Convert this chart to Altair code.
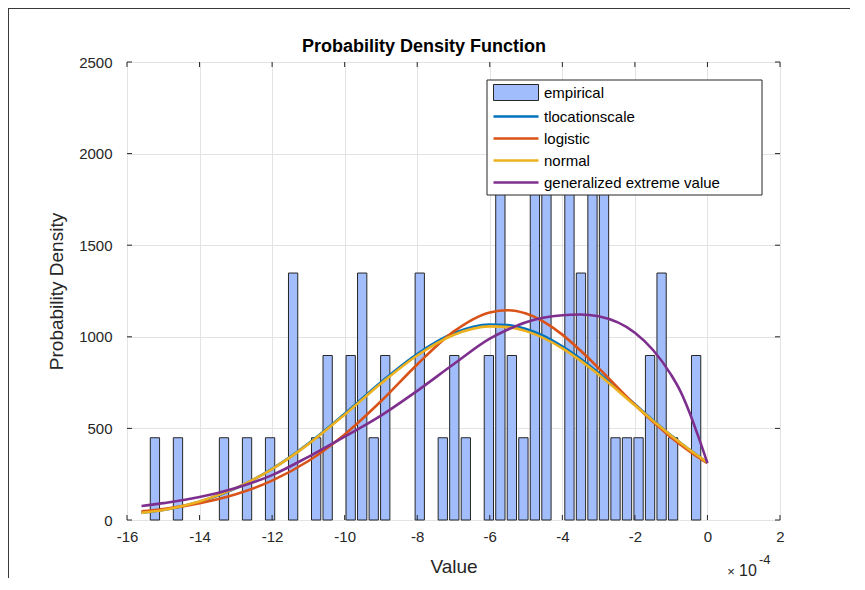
import altair as alt
import pandas as pd

# ---------------- data (x in units of 1e-4) ----------------
bin_centers = [-15.230, -14.595, -13.326, -12.691, -12.056, -11.421, -10.786, -10.469,
               -9.834, -9.517, -9.199, -8.882, -7.930, -7.295, -6.978, -6.660,
               -6.025, -5.708, -5.391, -5.073, -4.756, -4.438, -3.804, -3.486,
               -3.169, -2.851, -2.534, -2.217, -1.899, -1.582, -1.264, -0.947, -0.312]
bin_density = [449, 449, 449, 449, 449, 1348, 449, 898,
               898, 1348, 449, 898, 1348, 449, 898, 449,
               898, 1797, 898, 449, 1797, 2246, 1797, 1348,
               1797, 1797, 449, 449, 449, 898, 1348, 449, 898]

curve_x = [-15.6, -15, -14, -13, -12, -11, -10, -9, -8, -7, -6, -5.5, -5, -4, -3.5, -3,
           -2, -1.5, -1, -0.75, -0.5, -0.25, 0]
tls_y = [40, 55, 100, 173, 279, 417, 580, 752, 906, 1019, 1067, 1064, 1042, 948, 880, 803,
         632, 545, 461, 422, 384, 348, 313]
logistic_y = [47, 60, 92, 141, 215, 322, 467, 648, 849, 1028, 1133, 1145, 1127, 1012, 925, 829,
              629, 536, 451, 412, 375, 341, 310]
normal_y = [39, 55, 101, 174, 278, 414, 575, 745, 898, 1010, 1057, 1053, 1031, 937, 870, 794,
            626, 542, 460, 422, 384, 349, 314]
gev_y = [76, 92, 125, 175, 245, 345, 455, 570, 705, 850, 990, 1040, 1080, 1118, 1122, 1112,
         1022, 928, 792, 705, 590, 455, 310]

x_ticks = [-16, -14, -12, -10, -8, -6, -4, -2, 0, 2]
y_ticks = [0, 500, 1000, 1500, 2000, 2500]

legend_names = ["empirical", "tlocationscale", "logistic", "normal", "generalized extreme value"]
line_colors = ["#0072BD", "#D95319", "#EDB120", "#7E2F8E"]
bar_fill = "#a2bdfb"
edge = "#262626"

W, H = 653, 458
FONT = "Liberation Sans"

xscale = alt.Scale(domain=[-16, 2], nice=False, zero=False)
yscale = alt.Scale(domain=[0, 2500], nice=False, zero=False)

xaxis = alt.Axis(values=x_ticks, labelExpr="'' + datum.value", labelFontSize=15,
                 labelColor=edge, labelPadding=9, ticks=False, tickSize=0,
                 domain=False, grid=True, gridColor="#e3e3e3", gridWidth=1,
                 labelFlush=False, labelOverlap=False,
                 title="Value", titleFontSize=19, titleFontWeight="normal",
                 titleColor=edge, titlePadding=13, labelFont=FONT, titleFont=FONT)
yaxis = alt.Axis(values=y_ticks, labelExpr="'' + datum.value", labelFontSize=15,
                 labelColor=edge, labelPadding=15, ticks=False, tickSize=0,
                 domain=False, grid=True, gridColor="#e3e3e3", gridWidth=1,
                 labelFlush=False, labelOverlap=False,
                 title="Probability Density", titleFontSize=19,
                 titleFontWeight="normal", titleColor=edge, titlePadding=12,
                 labelFont=FONT, titleFont=FONT)

# ---------------- bars ----------------
df_bins = pd.DataFrame({"center": bin_centers, "density": bin_density})
bars = alt.Chart(df_bins).transform_calculate(
    left="datum.center - 0.128", right="datum.center + 0.128"
).mark_rect(fill=bar_fill, stroke=edge, strokeWidth=1).encode(
    x=alt.X("left:Q", scale=xscale, axis=xaxis),
    x2="right:Q",
    y=alt.Y("density:Q", scale=yscale, axis=yaxis),
    y2=alt.datum(0),
)

# ---------------- fitted curves ----------------
curve_sets = [("tlocationscale", tls_y), ("logistic", logistic_y),
              ("normal", normal_y), ("generalized extreme value", gev_y)]
lines = []
for (name, ys), col in zip(curve_sets, line_colors):
    dfc = pd.DataFrame({"x": curve_x, "density": ys})
    lines.append(
        alt.Chart(dfc).mark_line(color=col, strokeWidth=2.6, interpolate="monotone").encode(
            x=alt.X("x:Q", scale=xscale, axis=xaxis),
            y=alt.Y("density:Q", scale=yscale, axis=yaxis),
        )
    )

# ---------------- inward ticks (MATLAB style box) ----------------
dfx = pd.DataFrame({"t": x_ticks})
dfy = pd.DataFrame({"t": y_ticks})
tick_bottom = alt.Chart(dfx).mark_rule(color=edge, strokeWidth=1).encode(
    x=alt.X("t:Q", scale=xscale, axis=xaxis), y=alt.value(H), y2=alt.value(H - 5))
tick_top = alt.Chart(dfx).mark_rule(color=edge, strokeWidth=1).encode(
    x=alt.X("t:Q", scale=xscale, axis=xaxis), y=alt.value(0), y2=alt.value(5))
tick_left = alt.Chart(dfy).mark_rule(color=edge, strokeWidth=1).encode(
    y=alt.Y("t:Q", scale=yscale, axis=yaxis), x=alt.value(0), x2=alt.value(5))
tick_right = alt.Chart(dfy).mark_rule(color=edge, strokeWidth=1).encode(
    y=alt.Y("t:Q", scale=yscale, axis=yaxis), x=alt.value(W), x2=alt.value(W - 5))

# ---------------- legend ----------------
one = pd.DataFrame({"a": [0]})
LX, LY, LW, LH = 360, 18, 275, 115
legend_box = alt.Chart(one).mark_rect(fill="white", stroke=edge, strokeWidth=1).encode(
    x=alt.value(LX), x2=alt.value(LX + LW), y=alt.value(LY), y2=alt.value(LY + LH))

rect_path = "M-1,-1H4.625V1H-1Z"
line_path = "M-1,-0.17H4.625V0.17H-1Z"
legend_fills = [bar_fill] + line_colors
legend_strokes = [edge, "transparent", "transparent", "transparent", "transparent"]
legend_shapes = [rect_path, line_path, line_path, line_path, line_path]
leg = alt.Legend(title=None, orient="none", legendX=LX + 2, legendY=LY, padding=4,
                 rowPadding=5, labelOffset=34, labelFontSize=15, labelColor="#000000",
                 labelFont=FONT, labelLimit=500, symbolSize=256, symbolStrokeWidth=1,
                 symbolOpacity=1)
df_leg = pd.DataFrame({"name": legend_names})
legend_layer = alt.Chart(df_leg).transform_filter("false").mark_point(filled=True).encode(
    fill=alt.Fill("name:N", scale=alt.Scale(domain=legend_names, range=legend_fills), legend=leg),
    stroke=alt.Stroke("name:N", scale=alt.Scale(domain=legend_names, range=legend_strokes), legend=leg),
    shape=alt.Shape("name:N", scale=alt.Scale(domain=legend_names, range=legend_shapes), legend=leg),
)

# ---------------- figure frame lines, title and exponent label ----------------
frame_top = alt.Chart(one).mark_rule(color="#3a3a3a", strokeWidth=1).encode(
    x=alt.value(-119), x2=alt.value(W + 80), y=alt.value(-53.5))
frame_left = alt.Chart(one).mark_rule(color="#3a3a3a", strokeWidth=1).encode(
    x=alt.value(-118.5), y=alt.value(-54), y2=alt.value(H + 60))
title = alt.Chart(one).mark_text(text="Probability Density Function", fontSize=18,
                                 fontWeight="bold", align="center", baseline="alphabetic",
                                 color="#000000", font=FONT).encode(
    x=alt.value(297), y=alt.value(-10))
t_times = alt.Chart(one).mark_text(text="×", fontSize=13, align="center", baseline="middle",
                                   color=edge, font=FONT).encode(x=alt.value(604), y=alt.value(510))
t_ten = alt.Chart(one).mark_text(text="10", fontSize=16, align="left", baseline="middle",
                                 color=edge, font=FONT).encode(x=alt.value(612), y=alt.value(509))
t_exp = alt.Chart(one).mark_text(text="-4", fontSize=13, align="left", baseline="middle",
                                 color=edge, font=FONT).encode(x=alt.value(632), y=alt.value(498))

chart = alt.layer(
    bars, *lines, tick_bottom, tick_top, tick_left, tick_right,
    legend_box, legend_layer, frame_top, frame_left, title, t_times, t_ten, t_exp
).properties(
    width=W, height=H,
    autosize=alt.AutoSizeParams(type="none"),
    padding={"left": 119, "top": 54, "right": 70, "bottom": 58},
).configure_view(stroke=edge, strokeWidth=1).configure(font=FONT, background="white")

chart.save("out.html", embed_options={"renderer": "svg", "actions": False})
